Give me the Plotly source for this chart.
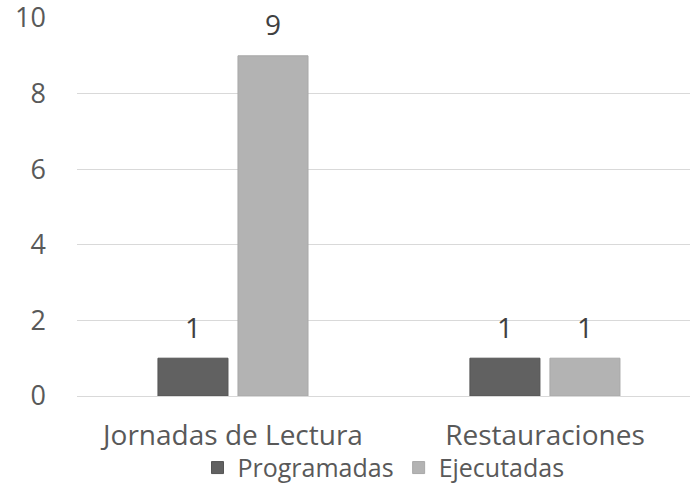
import plotly.graph_objects as go

categories = ["Jornadas de Lectura", "Restauraciones"]
programadas = [1, 1]
ejecutadas = [9, 1]
y_ticks = [0, 2, 4, 6, 8, 10]

text_color = "#595959"
label_color = "#404040"
font = "Open Sans, Liberation Sans, sans-serif"
series = [
    ("Programadas", programadas, "#616161", "#555555"),
    ("Ejecutadas", ejecutadas, "#b3b3b3", "#a8a8a8"),
]

fig = go.Figure()
for name, values, color, edge in series:
    fig.add_trace(
        go.Bar(
            x=categories,
            y=values,
            name=name,
            marker=dict(color=color, line=dict(color=edge, width=1)),
        )
    )
# value labels sit a little higher above the bars than plotly's own outside text
for name, values, color, edge in series:
    fig.add_trace(
        go.Scatter(
            x=categories,
            y=values,
            mode="markers+text",
            text=[str(v) for v in values],
            textposition="top center",
            textfont=dict(size=28, color=label_color),
            marker=dict(size=20, opacity=0),
            showlegend=False,
            hoverinfo="skip",
            cliponaxis=False,
        )
    )

fig.update_layout(
    width=690,
    height=491,
    margin=dict(l=77, r=0, t=18, b=92),
    paper_bgcolor="white",
    plot_bgcolor="white",
    font=dict(family=font, size=28, color=text_color),
    barmode="group",
    bargap=0.487,
    bargroupgap=0.125,
    scattermode="group",
    scattergap=0.487,
    showlegend=True,
    legend=dict(
        orientation="h",
        x=0.5,
        xanchor="center",
        y=-0.19,
        yanchor="middle",
        bgcolor="rgba(0,0,0,0)",
        font=dict(size=25, color=text_color),
        tracegroupgap=0,
    ),
)
fig.update_xaxes(
    range=[-0.5, 1.465],
    showgrid=False,
    showline=False,
    ticks="",
    automargin=False,
    ticklabelstandoff=20,
    ticklabeloverflow="allow",
    tickfont=dict(size=28, color=text_color),
)
fig.update_yaxes(
    range=[0, 10],
    tickvals=y_ticks,
    showgrid=True,
    gridcolor="#d9d9d9",
    gridwidth=1,
    zeroline=True,
    zerolinecolor="#d9d9d9",
    zerolinewidth=1,
    showline=False,
    ticks="",
    automargin=False,
    ticklabelstandoff=30,
    ticklabeloverflow="allow",
    tickfont=dict(size=27, color=text_color),
)

fig.write_html(
    "out.html",
    config={"displayModeBar": False},
    post_script="document.body.style.margin='0';",
)
